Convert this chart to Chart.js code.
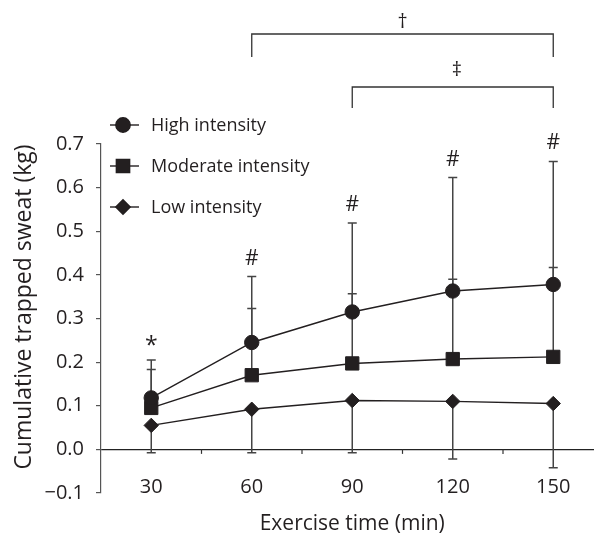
<!DOCTYPE html>
<html><head><meta charset="utf-8">
<script src="https://cdn.jsdelivr.net/npm/chart.js@4/dist/chart.umd.min.js"></script>
<style>
html,body{margin:0;padding:0;overflow:hidden;background:#fff;width:594px;height:535px}
#wrap{width:620px;height:535px;position:relative}
</style></head>
<body><div id="wrap"><canvas id="c" width="620" height="535"></canvas></div>
<script>
const categories = ['30', '60', '90', '120', '150'];
const highValues = [0.118, 0.245, 0.315, 0.363, 0.378];
const moderateValues = [0.095, 0.170, 0.197, 0.207, 0.212];
const lowValues = [0.055, 0.092, 0.112, 0.110, 0.105];
const highUpper = [0.205, 0.396, 0.519, 0.623, 0.660];
const moderateUpper = [0.183, 0.323, 0.357, 0.390, 0.417];
const lowLower = [-0.008, -0.008, -0.008, -0.022, -0.042];
const yTickValues = [-0.1, 0.0, 0.1, 0.2, 0.3, 0.4, 0.5, 0.6, 0.7];
const seriesNames = ['High intensity', 'Moderate intensity', 'Low intensity'];
const pointMarks = ['*', '#', '#', '#', '#'];
const yTitle = 'Cumulative trapped sweat (kg)';
const xTitle = 'Exercise time (min)';
const brackets = [
  {from: '60', to: '150', symbol: '\u2020'},
  {from: '90', to: '150', symbol: '\u2021'}
];

const FONT = "'Open Sans', 'DejaVu Sans', sans-serif";
const INK = '#231f20';
Chart.defaults.font.family = FONT;
Chart.defaults.color = INK;

const markerStyles = [
  {pointStyle: 'circle', radius: 7.2},
  {pointStyle: 'rect', radius: 9.4},
  {pointStyle: 'rectRot', radius: 7.2}
];

function makeDataset(i, data) {
  return {
    label: seriesNames[i],
    data: data,
    borderColor: INK,
    backgroundColor: INK,
    borderWidth: 1.4,
    pointStyle: markerStyles[i].pointStyle,
    pointRadius: markerStyles[i].radius,
    pointHoverRadius: markerStyles[i].radius,
    pointBackgroundColor: INK,
    pointBorderColor: INK,
    pointBorderWidth: 1,
    tension: 0,
    fill: false
  };
}

const extras = {
  id: 'extras',
  beforeDatasetsDraw(chart) {
    const ctx = chart.ctx, xs = chart.scales.x, ys = chart.scales.y;
    ctx.save();
    ctx.strokeStyle = '#444';
    ctx.lineWidth = 1.5;
    const cap = 4.5;
    const bars = [
      [highValues, highUpper],
      [moderateValues, moderateUpper],
      [lowValues, lowLower]
    ];
    bars.forEach(([vals, ends]) => {
      vals.forEach((v, i) => {
        const x = xs.getPixelForValue(i);
        const y0 = ys.getPixelForValue(v);
        const y1 = ys.getPixelForValue(ends[i]);
        ctx.beginPath();
        ctx.moveTo(x, y0); ctx.lineTo(x, y1);
        ctx.moveTo(x - cap, y1); ctx.lineTo(x + cap, y1);
        ctx.stroke();
      });
    });
    ctx.strokeStyle = '#333';
    ctx.lineWidth = 1.2;
    const yz = ys.getPixelForValue(0);
    for (let i = 1; i <= categories.length; i++) {
      const xb = xs.getPixelForValue(i - 0.5);
      ctx.beginPath();
      ctx.moveTo(xb, yz); ctx.lineTo(xb, yz + 4.5);
      ctx.stroke();
    }
    ctx.restore();
  },
  afterDraw(chart) {
    const ctx = chart.ctx, xs = chart.scales.x, ys = chart.scales.y;
    ctx.save();
    ctx.fillStyle = INK;
    ctx.textAlign = 'center';
    ctx.textBaseline = 'middle';
    ctx.save();
    ctx.translate(24, 307);
    ctx.rotate(-Math.PI / 2);
    ctx.font = "23px " + FONT;
    ctx.fillText(yTitle, 0, 0);
    ctx.restore();
    pointMarks.forEach((m, i) => {
      const x = xs.getPixelForValue(i);
      const y = ys.getPixelForValue(highUpper[i]);
      if (m === '*') {
        ctx.font = "23px " + FONT;
        ctx.fillText(m, x, y - 13);
      } else {
        ctx.font = "21px " + FONT;
        ctx.fillText(m, x, y - 18);
      }
    });
    const bracketY = [[34, 57, 22], [87, 108, 70]];
    ctx.strokeStyle = '#333';
    ctx.lineWidth = 1.3;
    brackets.forEach((b, k) => {
      const x1 = xs.getPixelForValue(categories.indexOf(b.from));
      const x2 = xs.getPixelForValue(categories.indexOf(b.to));
      const [yt, yb, ysym] = bracketY[k];
      ctx.beginPath();
      ctx.moveTo(x1, yb); ctx.lineTo(x1, yt); ctx.lineTo(x2, yt); ctx.lineTo(x2, yb);
      ctx.stroke();
      ctx.font = "20px " + FONT;
      ctx.fillText(b.symbol, (x1 + x2) / 2 + (k === 1 ? 4 : 0), ysym);
    });
    const rows = [125, 166, 207];
    ctx.textAlign = 'left';
    ctx.font = "18px " + FONT;
    seriesNames.forEach((name, i) => {
      const y = rows[i];
      ctx.strokeStyle = INK;
      ctx.lineWidth = 1.4;
      ctx.beginPath();
      ctx.moveTo(110, y); ctx.lineTo(139, y);
      ctx.stroke();
      Chart.helpers.drawPoint(ctx, {pointStyle: markerStyles[i].pointStyle, radius: markerStyles[i].radius, borderWidth: 1}, 123, y);
      ctx.fillStyle = INK;
      ctx.fill();
      ctx.fillText(name, 151, y + 1);
    });
    ctx.restore();
  }
};

new Chart(document.getElementById('c'), {
  type: 'line',
  data: {
    labels: categories,
    datasets: [
      makeDataset(0, highValues),
      makeDataset(1, moderateValues),
      makeDataset(2, lowValues)
    ]
  },
  options: {
    responsive: false,
    animation: false,
    events: [],
    layout: {padding: {top: 144, right: 16.5, left: 0, bottom: 0}},
    plugins: {legend: {display: false}, tooltip: {enabled: false}},
    scales: {
      x: {
        type: 'category',
        offset: true,
        grid: {display: false},
        border: {display: false},
        ticks: {mirror: true, padding: -6, font: {size: 20}, color: INK},
        title: {display: true, text: xTitle, font: {size: 21, lineHeight: 1.0}, padding: {top: 0, bottom: 0}, color: INK},
        afterFit(s) { s.height = 42; }
      },
      y: {
        min: -0.1,
        max: 0.7,
        afterBuildTicks(s) { s.ticks = yTickValues.map(v => ({value: v})); },
        grid: {
          drawOnChartArea: true,
          drawTicks: true,
          tickLength: 5,
          tickColor: '#555',
          color: c => (c.tick && Math.abs(c.tick.value) < 1e-9) ? '#222' : 'rgba(0,0,0,0)',
          lineWidth: 1.2
        },
        border: {display: true, color: '#555', width: 1.2},
        ticks: {
          padding: 12,
          font: {size: 20},
          color: INK,
          callback: v => v < -1e-9 ? '\u2212' + Math.abs(v).toFixed(1) : Math.abs(v).toFixed(1)
        },
        title: {display: false},
        afterFit(s) { s.width = 101; }
      }
    }
  },
  plugins: [extras]
});
</script>
</body></html>
